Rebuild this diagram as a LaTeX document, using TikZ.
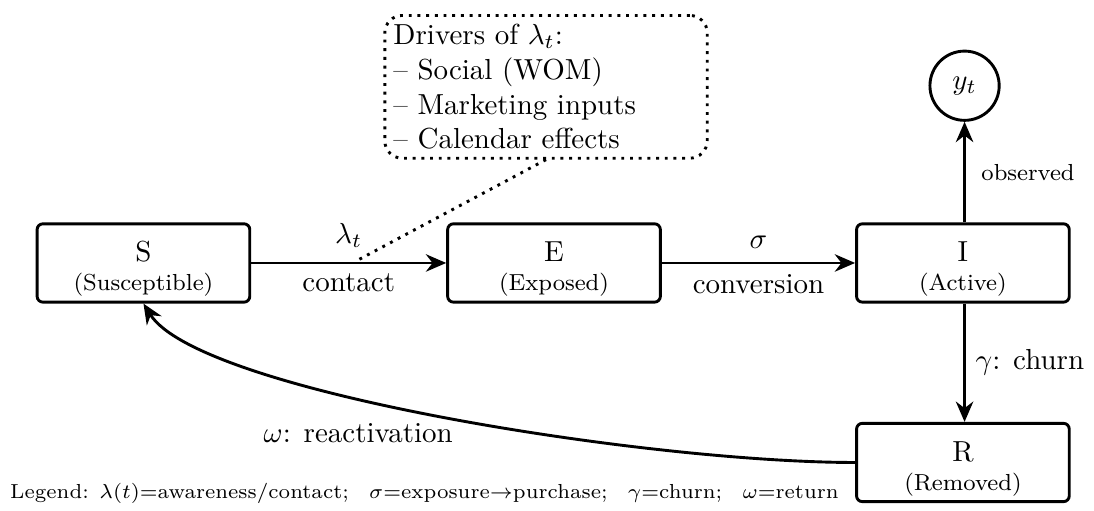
\documentclass[tikz,border=0pt]{standalone}
\usepackage{amsmath}
\usepackage{amssymb}
\usetikzlibrary{arrows.meta,positioning}
\newcommand{\statelbl}[2]{\rule{0pt}{11pt}#1\\[-2pt]{\footnotesize (#2)}}
\tikzset{
	state/.style={draw, line width=1pt, rounded corners=2pt, minimum width=2.58cm, minimum height=0.95cm, inner ysep=0pt, align=center},
	obs/.style={draw, circle, line width=1pt, minimum size=0.84cm, inner sep=0pt},
	flow/.style={line width=1pt, -{Stealth[length=7pt,width=6pt]}},
	notebox/.style={draw, dotted, line width=1pt, rounded corners=6pt, align=left, inner sep=3pt, text width=3.7cm}
}

\begin{document}
\begin{tikzpicture}
	\useasboundingbox (0,0) rectangle (13.27,-6.19);
	\node[state] (S) at (1.74,-3.19) {\statelbl{S}{Susceptible}};
	\node[state] (E) at (6.72,-3.19) {\statelbl{E}{Exposed}};
	\node[state] (I) at (11.68,-3.19) {\statelbl{I}{Active}};
	\node[state] (R) at (11.68,-5.61) {\statelbl{R}{Removed}};
	\node[obs] (y) at (11.70,-1.04) {$y_t$};
	\node[notebox, anchor=north west] (drivers) at (4.65,-0.17) {Drivers of $\lambda_t$:\\ -- Social (WOM)\\ -- Marketing inputs\\ -- Calendar effects};
	\coordinate (lamtip) at (4.35,-3.15);
	\draw[flow] (S) -- node[above=1.5pt] {$\lambda_t$} node[below] {contact} (E);
	\draw[flow] (E) -- node[above=1pt] {$\sigma$} node[below] {conversion} (I);
	\draw[flow] (I.north -| y.south) -- node[right=2pt, font=\footnotesize] {observed} (y);
	\draw[flow] (I.south -| y.south) -- node[right] {$\gamma$: churn} (R.north -| y.south);
	\draw[flow] (R.west) .. controls +(-2.51,0) and +(0.67,-1.07) .. node[pos=0.6, below=5pt] {$\omega$: reactivation} (S.south);
	\draw[dotted, line width=1pt] (drivers.south) -- (lamtip);
	\node[anchor=west, font=\scriptsize] (legend) at (0,-5.98) {Legend: $\lambda(t)$=awareness/contact;\quad $\sigma$=exposure$\to$purchase;\quad $\gamma$=churn;\quad $\omega$=return};
\end{tikzpicture}
\end{document}
